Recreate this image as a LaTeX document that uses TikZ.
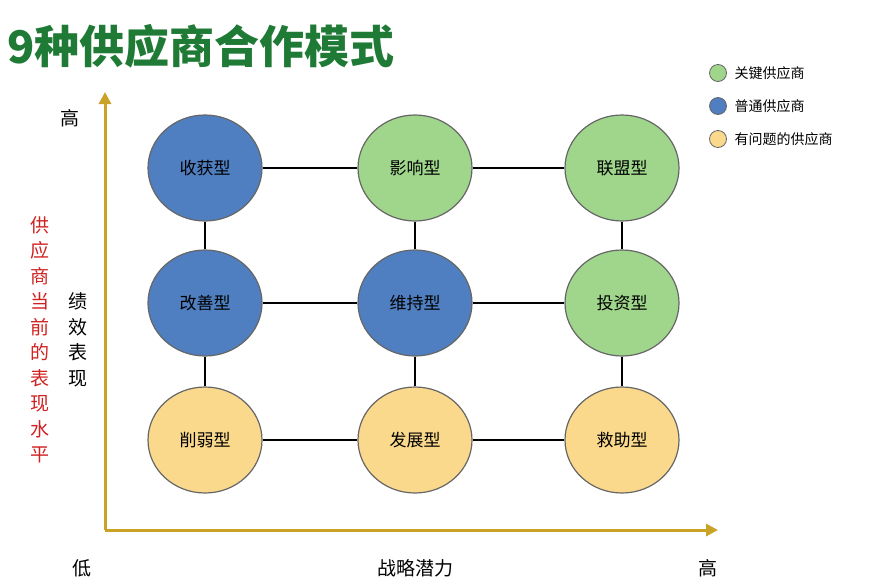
\documentclass[tikz,border=0pt]{standalone}
\usepackage{fontspec}
\newfontfamily\cjk{Noto Sans CJK SC}
\usetikzlibrary{shapes.geometric,arrows.meta}
\definecolor{gfill}{HTML}{9FD68C}
\definecolor{bfill}{HTML}{4F7FC0}
\definecolor{yfill}{HTML}{FAD98C}
\definecolor{axis}{HTML}{C9A227}
\definecolor{ttl}{HTML}{1F7A35}
\definecolor{red}{HTML}{D02020}
\begin{document}
\begin{tikzpicture}[x=1pt,y=-1pt,font=\cjk,
  sup/.style={ellipse,draw=black!60,line width=1.2pt,minimum width=114pt,minimum height=106pt,font=\cjk\fontsize{17}{20}\selectfont},
  g/.style={sup,fill=gfill}, b/.style={sup,fill=bfill}, yl/.style={sup,fill=yfill},
  lg/.style={circle,draw=black!60,line width=0.8pt,minimum size=17pt,inner sep=0pt},
  lt/.style={anchor=west,font=\cjk\fontsize{14}{16}\selectfont},
  ax/.style={axis,line width=3pt,-{Triangle[length=12pt,width=12pt]}},
  lab/.style={font=\cjk\fontsize{19}{22}\selectfont},
  link/.style={line width=1.8pt,black}]
\useasboundingbox (0,0) rectangle (886,587);
\node[anchor=west,text=ttl,font=\cjk\bfseries\fontsize{45}{50}\selectfont] (t) at (4,46) {9种供应商合作模式};
\coordinate (o) at (105,530);
\coordinate (yt) at (105,92);
\coordinate (xt) at (718,530);
\draw[ax] (o) -- (yt);
\draw[ax] (o) -- (xt);
\node[b] (a1) at (205,168) {收获型};
\node[g] (a2) at (415,168) {影响型};
\node[g] (a3) at (622,168) {联盟型};
\node[b] (b1) at (205,303) {改善型};
\node[b] (b2) at (415,303) {维持型};
\node[g] (b3) at (622,303) {投资型};
\node[yl] (c1) at (205,440) {削弱型};
\node[yl] (c2) at (415,440) {发展型};
\node[yl] (c3) at (622,440) {救助型};
\foreach \u/\v in {a1/a2,a2/a3,b1/b2,b2/b3,c1/c2,c2/c3,a1/b1,b1/c1,a2/b2,b2/c2,a3/b3,b3/c3}
  \draw[link] (\u) -- (\v);
\node[lab] (h1) at (70,118) {高};
\node[lab] (l0) at (82,568) {低};
\node[lab] (xl) at (415,568) {战略潜力};
\node[lab] (h2) at (708,568) {高};
\node[lab,text=red,align=center,font=\cjk\fontsize{19}{25.5}\selectfont] (yl1) at (40,340) {供\\应\\商\\当\\前\\的\\表\\现\\水\\平};
\node[lab,align=center,font=\cjk\fontsize{19}{25.5}\selectfont] (yl2) at (78,340) {绩\\效\\表\\现};
\node[lg,fill=gfill] (k1) at (718,73) {};
\node[lg,fill=bfill] (k2) at (718,106) {};
\node[lg,fill=yfill] (k3) at (718,139) {};
\node[lt] at (731,73) {关键供应商};
\node[lt] at (731,106) {普通供应商};
\node[lt] at (731,139) {有问题的供应商};
\end{tikzpicture}
\end{document}
